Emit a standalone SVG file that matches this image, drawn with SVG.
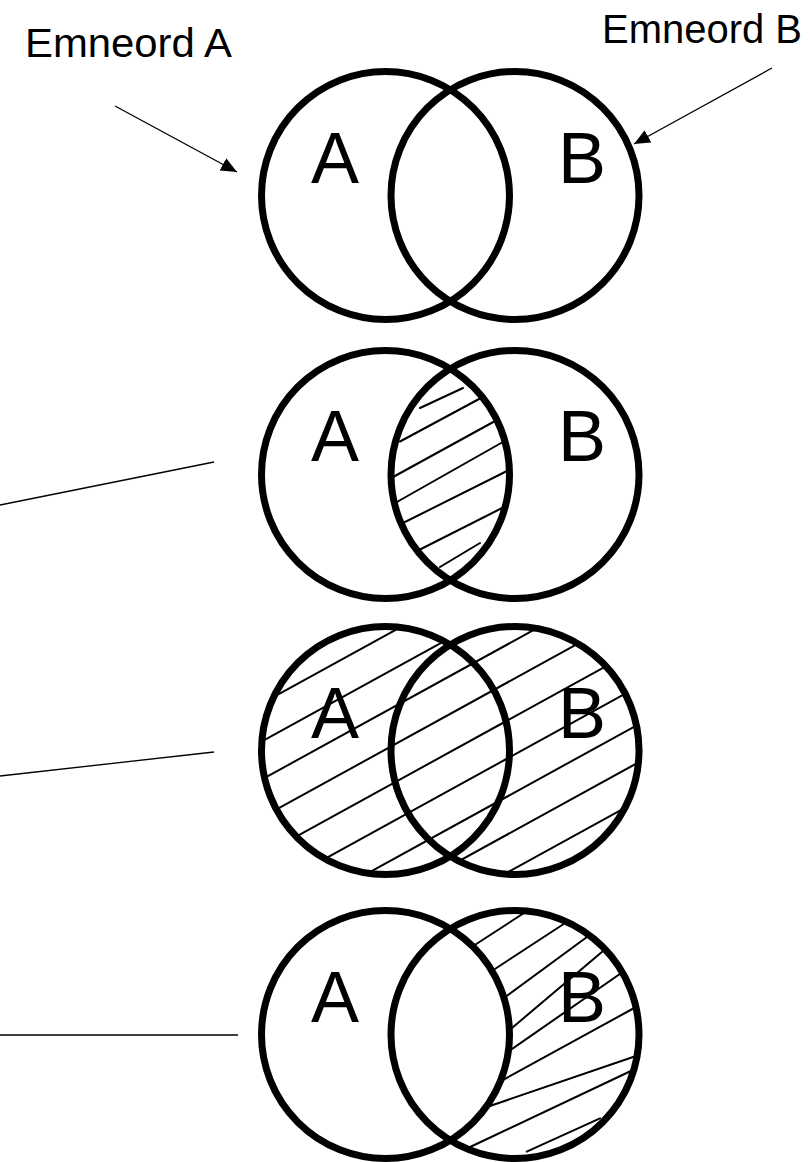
<svg xmlns="http://www.w3.org/2000/svg" width="810" height="1162" viewBox="0 0 810 1162">
<defs>
<style>
.ring{fill:none;stroke:#000;stroke-width:7}
.hatch{fill:none;stroke:#000;stroke-width:2;stroke-linecap:round}
.conn{fill:none;stroke:#000;stroke-width:1.3}
.letter{font-family:"Liberation Sans",Arial,sans-serif;font-size:72px;fill:#000;text-anchor:middle}
.label{font-family:"Liberation Sans",Arial,sans-serif;font-size:41px;fill:#000}
</style>
<marker id="ah" markerUnits="userSpaceOnUse" markerWidth="17" markerHeight="15" refX="16" refY="7" orient="auto">
<path d="M0,0 L16,7 L0,14 Z" fill="#000"/>
</marker>
<clipPath id="lens"><path d="M450.25,-105.75 A124,124 0 0 1 450.25,105.75 A124,124 0 0 1 450.25,-105.75 Z"/></clipPath>
<clipPath id="union"><circle cx="385.5" cy="0" r="124"/><circle cx="515" cy="0" r="124"/></clipPath>
<clipPath id="bonly"><path d="M450.25,-105.75 A124,124 0 1 1 450.25,105.75 A124,124 0 0 0 450.25,-105.75 Z"/></clipPath>
</defs>
<rect width="810" height="1162" fill="#fff"/>

<g id="label-a"><text class="label" x="25" y="57" textLength="207" lengthAdjust="spacingAndGlyphs">Emneord A</text></g>
<g id="label-b"><text class="label" x="602" y="43" textLength="200" lengthAdjust="spacingAndGlyphs">Emneord B</text></g>

<g id="venn1" transform="translate(0,195.5)">
<circle class="ring" cx="385.5" cy="0" r="124"/>
<circle class="ring" cx="515" cy="0" r="124"/>
<text class="letter" x="335" y="-13">A</text>
<text class="letter" x="582" y="-13">B</text>
</g>

<g id="venn2" transform="translate(0,474.5)">
<g clip-path="url(#lens)">
<path class="hatch" d="M420,-66.5 L463,-86.5 M400,-33 L480,-76 M394,2 L496,-54 M396,28 L502,-32 M402,49 L509,-4.5 M420,75 L502,33.5 M440,92.5 L480,68.5"/>
</g>
<circle class="ring" cx="385.5" cy="0" r="124"/>
<circle class="ring" cx="515" cy="0" r="124"/>
<text class="letter" x="335" y="-14">A</text>
<text class="letter" x="582" y="-14">B</text>
</g>

<g id="venn3" transform="translate(0,750.5)">
<g clip-path="url(#union)">
<path class="hatch" d="M200,-13 L700,-288 M200,25 L700,-250 M200,63 L700,-212 M200,101 L700,-174 M200,139 L700,-136 M200,177 L700,-98 M200,215 L700,-60 M200,253 L700,-22 M200,291 L700,16"/>
</g>
<circle class="ring" cx="385.5" cy="0" r="124"/>
<circle class="ring" cx="515" cy="0" r="124"/>
<text class="letter" x="335" y="-13">A</text>
<text class="letter" x="582" y="-13">B</text>
</g>

<g id="venn4" transform="translate(0,1034.5)">
<g clip-path="url(#bonly)">
<path class="hatch" d="M474,-89 L524,-121.5 M491,-63 L566,-112 M502,-35 L589,-99 M509,-4 L606,-86 M507,18 L622,-62 M502,46 L636,-27.5 M487,72.5 L636,21.5 M469,113 L633,35.5 M526.7,117.2 L600,83.8"/>
</g>
<circle class="ring" cx="385.5" cy="0" r="124"/>
<circle class="ring" cx="515" cy="0" r="124"/>
<text class="letter" x="335" y="-12.5">A</text>
<text class="letter" x="582" y="-12.5">B</text>
</g>

<g id="connectors">
<line class="conn" x1="115" y1="106" x2="237" y2="172" marker-end="url(#ah)"/>
<line class="conn" x1="772" y1="68" x2="634" y2="144" marker-end="url(#ah)"/>
<line class="conn" x1="0" y1="505" x2="214" y2="462"/>
<line class="conn" x1="0" y1="776" x2="214" y2="752"/>
<line class="conn" x1="0" y1="1035" x2="238" y2="1035"/>
</g>
</svg>
